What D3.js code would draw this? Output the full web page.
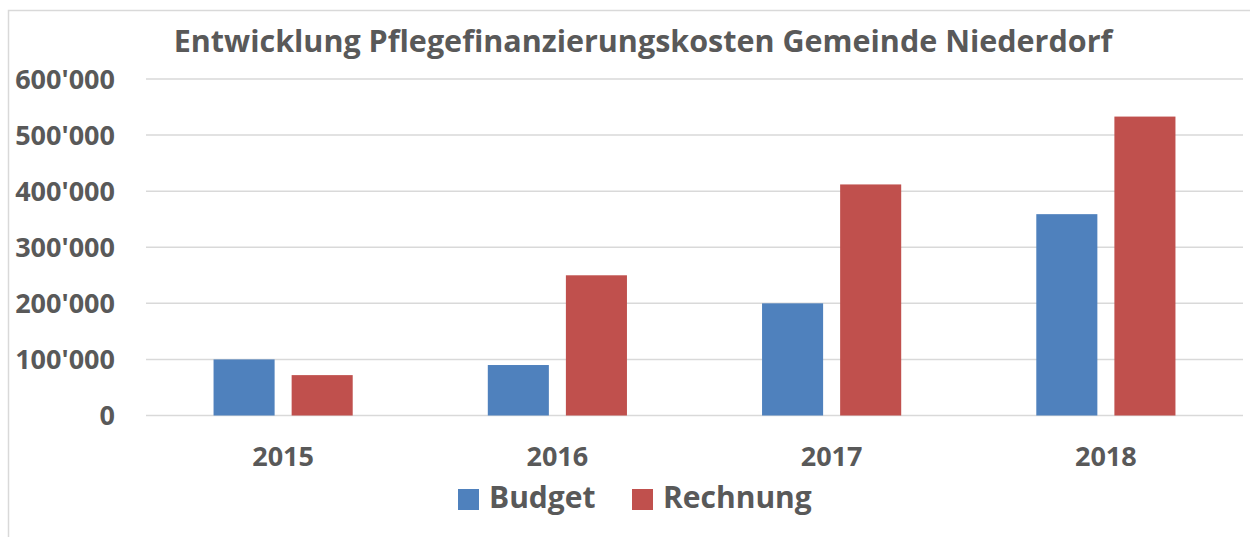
<!DOCTYPE html>
<html>
<head>
<meta charset="utf-8">
<script src="https://cdn.jsdelivr.net/npm/d3@7"></script>
<style>
  body { margin: 0; background: #fff; }
  text { font-family: "Open Sans", sans-serif; font-weight: bold; fill: #595959; }
</style>
</head>
<body>
<div id="chart"></div>
<script>
var years = ["2015", "2016", "2017", "2018"]
var seriesNames = ["Budget", "Rechnung"]
var budget = [100000, 90000, 200000, 359000]
var rechnung = [72000, 250000, 412000, 533000]
var yTicks = [0, 100000, 200000, 300000, 400000, 500000, 600000]
var colors = ["#4F81BD", "#C0504D"]

var width = 1250, height = 537
var margin = {top: 79, right: 7, bottom: 121, left: 146}

var svg = d3.select("#chart").append("svg")
  .attr("width", width)
  .attr("height", height)

// chart frame (top + left edges visible)
svg.append("path")
  .attr("d", "M8.5,537 V10.5 H1250")
  .attr("fill", "none")
  .attr("stroke", "#D9D9D9")
  .attr("stroke-width", 1.5)

var x0 = d3.scaleBand()
  .domain(years)
  .range([margin.left, width - margin.right])

var x1 = d3.scaleBand()
  .domain(seriesNames)
  .range([0, x0.bandwidth()])
  .paddingInner(0.218)
  .paddingOuter(0.865)

var y = d3.scaleLinear()
  .domain([0, 600000])
  .range([height - margin.bottom - 0.5, margin.top])

var fmt = d => d3.format(",")(d).replace(/,/g, "'")

// gridlines
svg.append("g")
  .selectAll("line")
  .data(yTicks)
  .join("line")
    .attr("x1", margin.left)
    .attr("x2", width - margin.right)
    .attr("y1", d => y(d))
    .attr("y2", d => y(d))
    .attr("stroke", "#D9D9D9")
    .attr("stroke-width", 1.5)

// y labels
svg.append("g")
  .selectAll("text")
  .data(yTicks)
  .join("text")
    .attr("x", 115)
    .attr("y", d => y(d))
    .attr("dy", "0.36em")
    .attr("text-anchor", "end")
    .style("font-size", "27px")
    .text(fmt)

var rows = years.map((yr, i) => ({year: yr, values: [budget[i], rechnung[i]]}))

// bars
svg.append("g")
  .selectAll("g")
  .data(rows)
  .join("g")
    .attr("transform", d => `translate(${x0(d.year)},0)`)
  .selectAll("rect")
  .data(d => d.values.map((v, j) => ({key: seriesNames[j], value: v, color: colors[j]})))
  .join("rect")
    .attr("x", d => x1(d.key))
    .attr("width", x1.bandwidth())
    .attr("y", d => y(d.value))
    .attr("height", d => y(0) - y(d.value))
    .attr("fill", d => d.color)

// x labels
svg.append("g")
  .selectAll("text")
  .data(years)
  .join("text")
    .attr("x", d => x0(d) + x0.bandwidth() / 2)
    .attr("y", 466)
    .attr("text-anchor", "middle")
    .style("font-size", "27px")
    .text(d => d)

// title
svg.append("text")
  .attr("x", 643)
  .attr("y", 52)
  .attr("text-anchor", "middle")
  .style("font-size", "30.5px")
  .text("Entwicklung Pflegefinanzierungskosten Gemeinde Niederdorf")

// legend
var legendX = [458, 632]
var legend = svg.append("g")
  .selectAll("g")
  .data(seriesNames)
  .join("g")
    .attr("transform", (d, i) => `translate(${legendX[i]},489)`)
legend.append("rect")
  .attr("width", 21)
  .attr("height", 21)
  .attr("fill", (d, i) => colors[i])
legend.append("text")
  .attr("x", 31)
  .attr("y", 19)
  .style("font-size", "30px")
  .text(d => d)
</script>
</body>
</html>
